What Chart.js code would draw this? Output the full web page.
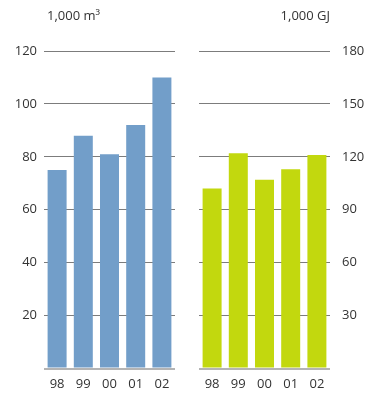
<!DOCTYPE html>
<html>
<head>
<meta charset="utf-8">
<script src="https://cdn.jsdelivr.net/npm/chart.js@4.4.1/dist/chart.umd.min.js"></script>
<style>
  html, body { margin: 0; padding: 0; background: #fff; }
  body { width: 374px; height: 395px; position: relative; overflow: hidden; font-family: 'Open Sans', sans-serif; }
  .wrap { position: absolute; top: 0; height: 395px; }
  .unit { position: absolute; top: 6px; font-size: 13px; color: #333; white-space: nowrap; }
</style>
</head>
<body>
<div class="wrap" style="left:0;width:185px"><canvas id="waterChart"></canvas></div>
<div class="wrap" style="left:185px;width:189px"><canvas id="energyChart"></canvas></div>
<div class="unit" style="left:47px">1,000 m³</div>
<div class="unit" style="right:44px">1,000 GJ</div>
<script>
// ── DATA ──────────────────────────────────────────────────────
const YEARS       = ['98', '99', '00', '01', '02'];
const WATER       = [75, 88, 81, 92, 110];     // 1,000 m³
const ENERGY      = [102, 122, 107, 113, 121]; // 1,000 GJ
const WATER_TICKS  = [0, 20, 40, 60, 80, 100, 120];
const ENERGY_TICKS = [0, 30, 60, 90, 120, 150, 180];

const BLUE  = '#729ec9';
const GREEN = '#c2d80e';
const GRID  = '#7c7c7c';
const BASE  = '#b4b4b4';
const TEXT  = '#333';
const FONT  = { family: "'Open Sans', sans-serif", size: 13 };

function gridColor(ctx) { return ctx.tick && ctx.tick.value === 0 ? BASE : GRID; }
function gridWidth(ctx) { return ctx.tick && ctx.tick.value === 0 ? 2 : 1; }

function makeChart(id, values, ticks, color, side) {
  const ctx = document.getElementById(id).getContext('2d');
  const pad = side === 'left'
    ? { top: 51, left: 0, right: 10, bottom: 0 }
    : { top: 51, left: 14, right: 0, bottom: 0 };
  return new Chart(ctx, {
    type: 'bar',
    data: {
      labels: YEARS,
      datasets: [{ data: values, backgroundColor: color, barPercentage: 0.725, categoryPercentage: 1 }]
    },
    options: {
      responsive: true,
      maintainAspectRatio: false,
      animation: false,
      layout: { padding: pad },
      plugins: { legend: { display: false }, tooltip: { enabled: false } },
      scales: {
        x: {
          grid: { display: false },
          border: { display: false },
          ticks: { font: FONT, color: TEXT, padding: 0 },
          afterFit: s => { s.height = 26.5; }
        },
        y: {
          position: side,
          min: ticks[0],
          max: ticks[ticks.length - 1],
          afterBuildTicks: s => { s.ticks = ticks.map(v => ({ value: v })); },
          grid: { color: gridColor, lineWidth: gridWidth, drawTicks: false },
          border: { display: false },
          ticks: {
            font: FONT, color: TEXT,
            padding: side === 'left' ? 7 : 12,
            callback: v => v === 0 ? '' : v
          },
          afterFit: s => { s.width = 44; }
        }
      }
    }
  });
}

makeChart('waterChart', WATER, WATER_TICKS, BLUE, 'left');
makeChart('energyChart', ENERGY, ENERGY_TICKS, GREEN, 'right');
</script>
</body>
</html>
